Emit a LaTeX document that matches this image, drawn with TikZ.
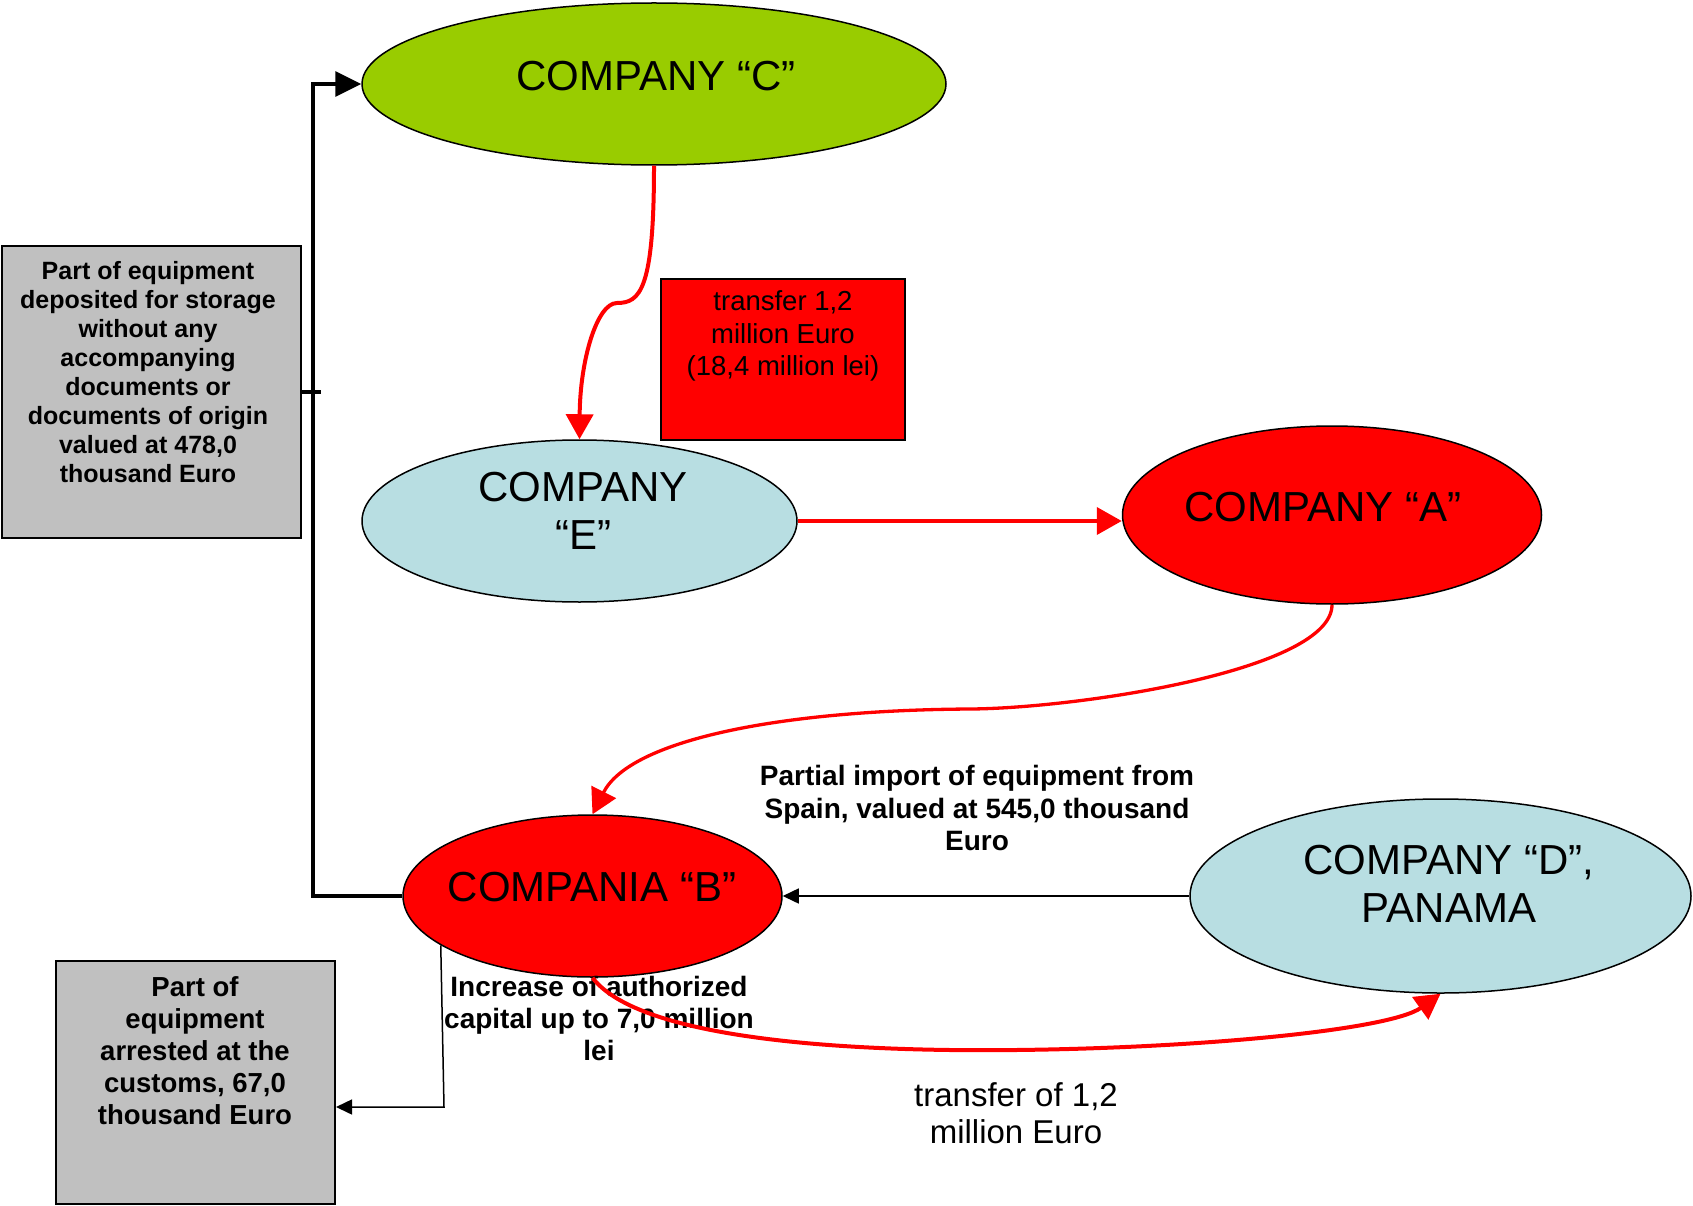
\documentclass[tikz,border=0pt]{standalone}
\usepackage{fontspec}
\setmainfont{Liberation Sans}
\usetikzlibrary{arrows.meta,shapes.geometric}
\definecolor{limeC}{RGB}{153,204,0}
\definecolor{paleblue}{RGB}{184,222,226}
\definecolor{boxgray}{RGB}{192,192,192}
\definecolor{flowred}{RGB}{255,0,0}

\begin{document}
\begin{tikzpicture}[x=1pt,y=-1pt,
  firm/.style={ellipse, draw=black, line width=1.5pt, inner sep=0pt},
  firmtext/.style={font=\fontsize{42}{48}\selectfont, align=center, inner sep=0pt},
  panel/.style={rectangle, draw=black, line width=2pt, inner sep=0pt},
  panelbold/.style n args={2}{font=\bfseries\fontsize{#1}{#2}\selectfont, align=center, inner sep=0pt},
  plaintext/.style n args={2}{font=\fontsize{#1}{#2}\selectfont, align=center, inner sep=0pt},
  redflow/.style={draw=flowred, line width=4pt, -{Triangle[length=25pt,width=27pt]}},
  trunk/.style={draw=black, line width=3.5pt},
  thinflow/.style={draw=black, line width=1.5pt, -{Triangle[length=16pt,width=15pt]}}
]
\useasboundingbox (0,0) rectangle (1693,1206);

% companies
\node[firm, fill=limeC, minimum width=584pt, minimum height=162pt] (C) at (654,84) {};
\node[firmtext] (Ct) at (656,76) {COMPANY “C”};

\node[firm, fill=paleblue, minimum width=435pt, minimum height=162pt] (E) at (579.5,521) {};
\node[firmtext] (Et) at (583,511) {COMPANY\\“E”};

\node[firm, fill=flowred, minimum width=419pt, minimum height=178pt] (A) at (1332,515) {};
\node[firmtext] (At) at (1323,507) {COMPANY “A”};

\node[firm, fill=flowred, minimum width=379pt, minimum height=162pt] (B) at (592.5,896) {};
\node[firmtext] (Bt) at (592,887) {COMPANIA “B”};

\node[firm, fill=paleblue, minimum width=501pt, minimum height=194pt] (D) at (1440.5,896) {};
\node[firmtext] (Dt) at (1449,884) {COMPANY “D”,\\PANAMA};

% side panels
\node[panel, fill=boxgray, minimum width=299pt, minimum height=292pt] (box1) at (151.5,392) {};
\node[panelbold={25}{29}] (box1t) at (148,372) {Part of equipment\\deposited for storage\\without any\\accompanying\\documents or\\documents of origin\\valued at 478,0\\thousand Euro};

\node[panel, fill=flowred, minimum width=244pt, minimum height=161pt] (cash) at (783,359.5) {};
\node[plaintext={27.5}{32.5}] (casht) at (783,336) {transfer 1,2\\million Euro\\(18,4 million lei)};

\node[panel, fill=boxgray, minimum width=279pt, minimum height=243pt] (box2) at (195.5,1082.5) {};
\node[panelbold={27.5}{32}] (box2t) at (195,1051) {Part of\\equipment\\arrested at the\\customs, 67,0\\thousand Euro};

% flow labels
\node[panelbold={28}{32.5}] (importlbl) at (977,808) {Partial import of equipment from\\Spain, valued at 545,0 thousand\\Euro};
\node[panelbold={28}{32}] (capitallbl) at (599,1018) {Increase of authorized\\capital up to 7,0 million\\lei};
\node[plaintext={33}{37.5}] (transferlbl) at (1016,1113) {transfer of 1,2\\million Euro};

% black trunk from B back to C, with the tick from the storage panel
\coordinate (trunkpt) at (313,400);
\draw[trunk, -{Triangle[length=26pt,width=25pt]}] (B.west) -| (trunkpt) |- (C.west);
\draw[trunk] (box1.east) -- ++(19,0);

% thin black flows
\draw[thinflow] (D.west) -- (B.east);
\coordinate (drop) at (444,1107);
\draw[thinflow] (B.198.7) -- (drop) -- (drop -| box2.east);

% red money / goods flows
\draw[redflow] (C.south) .. controls (654,290) and (640,303) .. (617,303)
  .. controls (597,303) and (580,360) .. (E.north);
\draw[redflow] (E.east) -- (E.east -| A.west);
\draw[redflow, line width=3.3pt] (A.south) .. controls (1332,670) and (1080,708) .. (971,709)
  .. controls (780,710) and (630,740) .. (B.north);
\draw[redflow] (B.south) .. controls (640,1040) and (850,1052) .. (1016,1050)
  .. controls (1200,1048) and (1390,1030) .. (D.south);
\end{tikzpicture}
\end{document}
